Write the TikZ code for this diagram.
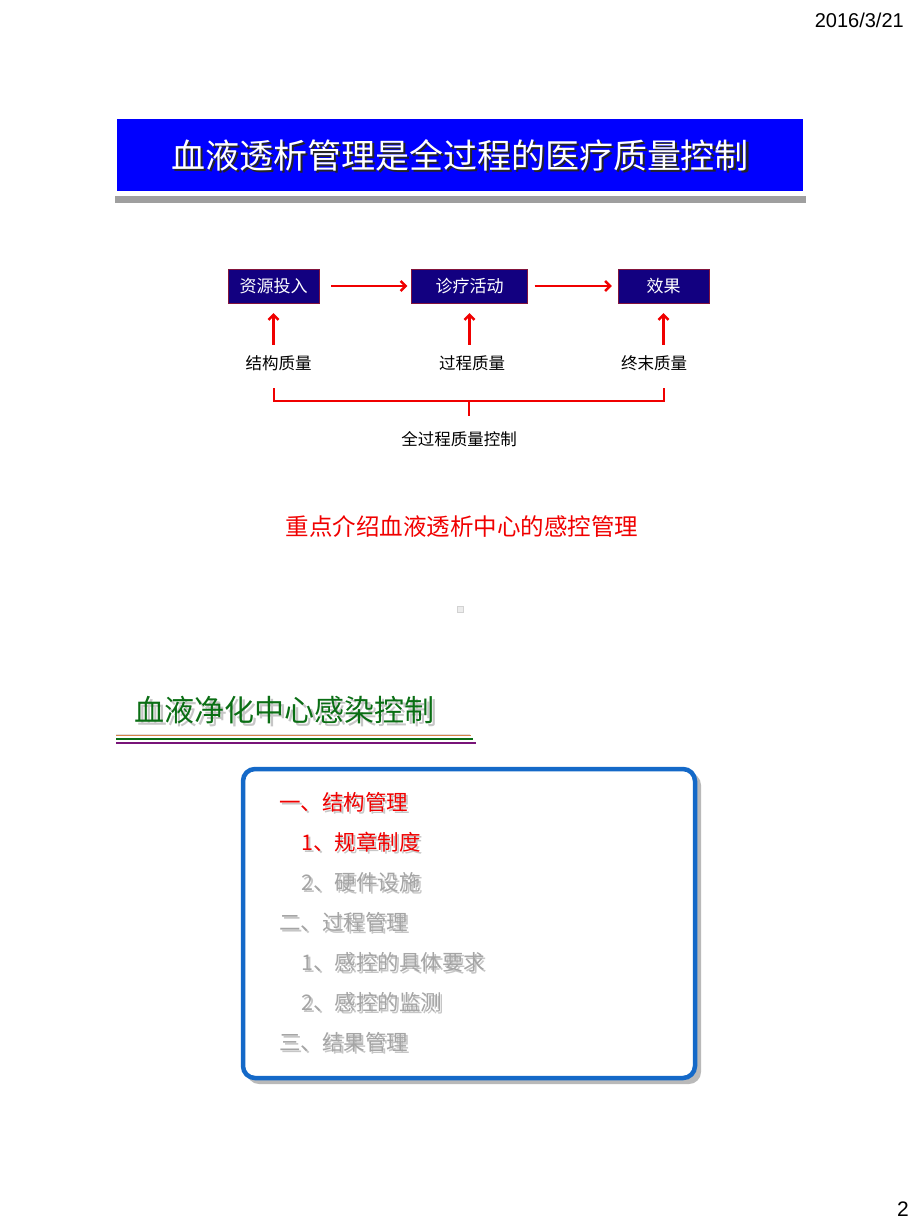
\documentclass[tikz,border=0pt]{standalone}
\usepackage{fontspec}
\setmainfont{Liberation Sans}
\newfontfamily\cjk{Noto Sans CJK SC}
\usetikzlibrary{positioning,arrows.meta}

\definecolor{titleblue}{RGB}{0,0,255}
\definecolor{navybox}{RGB}{18,0,128}
\definecolor{boxedge}{RGB}{130,20,60}
\definecolor{flowred}{RGB}{240,0,0}
\definecolor{headgreen}{RGB}{10,110,20}
\definecolor{lineorange}{RGB}{215,130,70}
\definecolor{linepurple}{RGB}{120,20,120}
\definecolor{panelblue}{RGB}{20,105,200}
\definecolor{itemgray}{RGB}{165,165,165}

\begin{document}
\begin{tikzpicture}[x=1pt,y=-1pt,
    flowbox/.style={draw=boxedge, fill=navybox, text=white, minimum height=34pt,
        inner sep=0pt, font=\cjk\fontsize{17}{20}\selectfont},
    flowlabel/.style={font=\cjk\fontsize{16.5}{20}\selectfont},
    redarrow/.style={-{Straight Barb[length=5pt,width=10pt]}, line width=2.5pt, flowred},
    redline/.style={line width=2.5pt, flowred},
    listitem/.style={anchor=west, inner sep=0pt, font=\cjk\fontsize{21.5}{24}\selectfont}]
    \useasboundingbox (0,0) rectangle (920,1227);

    % Date and page number
    \node[anchor=base east, inner sep=0pt, font=\fontsize{20}{24}\selectfont] (date) at (904,27) {2016/3/21};
    \node[anchor=base east, inner sep=0pt, font=\fontsize{21}{24}\selectfont] (page) at (909,1216) {2};

    % Title bar
    \fill[gray!75] (115,196) rectangle (806,203);
    \node[fill=titleblue, minimum width=686pt, minimum height=72pt, inner sep=0pt] (title) at (460,155) {};
    \node[text=black!85, font=\cjk\fontsize{34}{38}\selectfont] (titleshadow) at (462.5,157.5) {血液透析管理是全过程的医疗质量控制};
    \node[text=white, font=\cjk\fontsize{34}{38}\selectfont] (titletext) at (460,155) {血液透析管理是全过程的医疗质量控制};

    % Flow boxes
    \node[flowbox, minimum width=91pt] (res) at (273.5,286) {资源投入};
    \node[flowbox, minimum width=116pt] (act) at (469.5,286) {诊疗活动};
    \node[flowbox, minimum width=91pt] (eff) at (663.5,286) {效果};
    \draw[redarrow, shorten <=12pt, shorten >=4pt] (res) -- (act);
    \draw[redarrow, shorten <=7pt, shorten >=6pt] (act) -- (eff);

    % Quality labels
    \node[flowlabel] (sq) at (278.5,363) {结构质量};
    \node[flowlabel] (pq) at (472,363) {过程质量};
    \node[flowlabel] (eq) at (654,363) {终末质量};
    \draw[redarrow, shorten <=7pt, shorten >=10pt] (sq.north -| res.south) -- (res.south);
    \draw[redarrow, shorten <=7pt, shorten >=10pt] (pq.north -| act.south) -- (act.south);
    \draw[redarrow, shorten <=7pt, shorten >=10pt] (eq.north -| eff.south) -- (eff.south);

    % Bracket
    \coordinate (brL) at (274,388);
    \coordinate (brR) at (664,388);
    \coordinate (brM) at (469,401);
    \node[flowlabel] (whole) at (459,439) {全过程质量控制};
    \draw[redline] (brL) -- ++(0,13) -| (brR);
    \draw[redline] (brM) -- ++(0,15);

    % Focus line
    \node[text=flowred, font=\cjk\fontsize{23.5}{26}\selectfont] (focus) at (462,527) {重点介绍血液透析中心的感控管理};
    \filldraw[draw=gray!35, fill=gray!15] (457,606) rectangle (463,612);

    % Second heading
    \node[text=gray!45, font=\cjk\fontsize{30}{34}\selectfont] (headshadow) at (287,713) {血液净化中心感染控制};
    \node[text=headgreen, font=\cjk\fontsize{30}{34}\selectfont] (head) at (284,710) {血液净化中心感染控制};
    \draw[gray!25, line width=0.8pt] (116,734) -- (470,734);
    \draw[lineorange, line width=1.5pt] (116,735.5) -- (471,735.5);
    \draw[headgreen, line width=2.2pt] (116,739.3) -- (473,739.3);
    \draw[linepurple, line width=1.6pt] (116,742.8) -- (476,742.8);

    % Outline panel
    \fill[gray!55, rounded corners=12pt] (247,773) rectangle (701,1084);
    \draw[panelblue, fill=white, line width=4.5pt, rounded corners=12pt] (243,769) rectangle (695,1078);

    \foreach \txt/\x/\y/\col [count=\i] in {
        一、结构管理/279/802/flowred,
        1、规章制度/301/842/flowred,
        2、硬件设施/301/882/itemgray,
        二、过程管理/279/922/itemgray,
        1、感控的具体要求/301/962/itemgray,
        2、感控的监测/301/1002/itemgray,
        三、结果管理/279/1042/itemgray} {
        \node[listitem, text=gray!45] (itemshadow\i) at (\x+2,\y+2) {\txt};
        \node[listitem, text=\col] (item\i) at (\x,\y) {\txt};
    }
\end{tikzpicture}
\end{document}
